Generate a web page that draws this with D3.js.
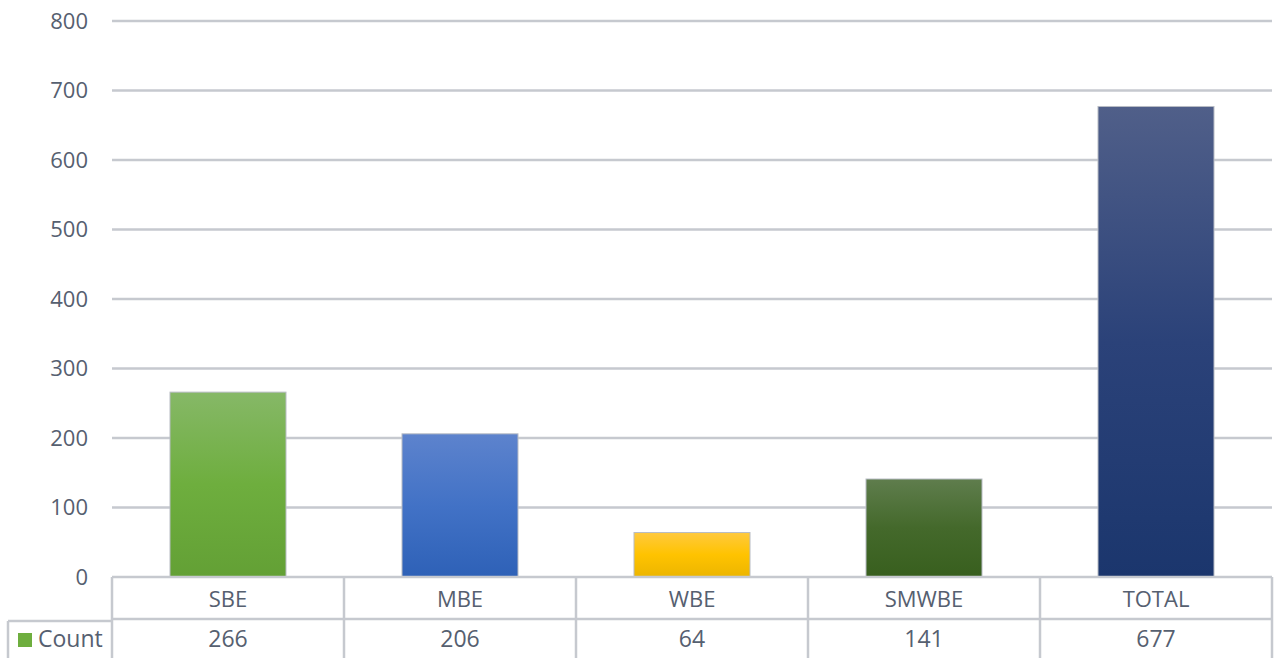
<!DOCTYPE html>
<html>
<head>
<meta charset="utf-8">
<script src="https://cdn.jsdelivr.net/npm/d3@7"></script>
<style>
  body { margin: 0; background: #fff; }
  svg { display: block; }
</style>
</head>
<body>
<div id="chart"></div>
<script>
const categories = ["SBE", "MBE", "WBE", "SMWBE", "TOTAL"]
const counts = [266, 206, 64, 141, 677]
const yTicks = [0, 100, 200, 300, 400, 500, 600, 700, 800]
const seriesName = "Count"
const barColors = [
  ["#86b867", "#6eae3e", "#63a035"],
  ["#5d83cd", "#4272c6", "#2e61b7"],
  ["#ffc93e", "#ffc300", "#ecb500"],
  ["#5f7d4d", "#44692b", "#385f1e"],
  ["#505f89", "#2b4279", "#1b366d"]
]

const width = 1276, height = 658
const plotLeft = 112, plotRight = 1272, plotTop = 21, plotBottom = 577
const rowH = 42
const textColor = "#566070"
const gridColor = "#c6c9cf"
const font = "'Open Sans', 'Liberation Sans', sans-serif"

const svg = d3.select("#chart").append("svg")
  .attr("width", width).attr("height", height)
  .attr("font-family", font)

const x = d3.scaleBand().domain(categories).range([plotLeft, plotRight]).paddingInner(0).paddingOuter(0)
const y = d3.scaleLinear().domain([0, 800]).range([plotBottom, plotTop])

const defs = svg.append("defs")
barColors.forEach((c, i) => {
  const g = defs.append("linearGradient").attr("id", "grad" + i)
    .attr("x1", 0).attr("y1", 0).attr("x2", 0).attr("y2", 1)
  g.append("stop").attr("offset", "0%").attr("stop-color", c[0])
  g.append("stop").attr("offset", "50%").attr("stop-color", c[1])
  g.append("stop").attr("offset", "100%").attr("stop-color", c[2])
})

// gridlines
svg.append("g").selectAll("line").data(yTicks.filter(d => d > 0)).join("line")
  .attr("x1", plotLeft).attr("x2", plotRight)
  .attr("y1", d => y(d)).attr("y2", d => y(d))
  .attr("stroke", gridColor).attr("stroke-width", 2.5)

// y axis labels
const yAxis = d3.axisLeft(y).tickValues(yTicks).tickSize(0).tickPadding(0)
svg.append("g").attr("transform", `translate(${plotLeft - 24},0)`)
  .call(yAxis)
  .call(g => g.select(".domain").remove())
  .call(g => g.selectAll("text")
    .attr("font-size", 22).attr("fill", textColor).attr("font-family", font)
    .attr("dy", "0.33em"))

// bars
const bw = x.bandwidth() / 2
svg.append("g").selectAll("rect").data(counts).join("rect")
  .attr("x", (d, i) => x(categories[i]) + (x.bandwidth() - bw) / 2)
  .attr("width", bw)
  .attr("y", d => y(d))
  .attr("height", d => y(0) - y(d))
  .attr("fill", (d, i) => `url(#grad${i})`)
  .attr("stroke", "#b8bcc4").attr("stroke-width", 1)

// data table
const t = svg.append("g").attr("fill", "none").attr("stroke", gridColor).attr("stroke-width", 2.5)
t.append("line").attr("x1", plotLeft).attr("x2", plotRight).attr("y1", plotBottom).attr("y2", plotBottom)
t.append("line").attr("x1", plotLeft).attr("x2", plotRight).attr("y1", plotBottom + rowH).attr("y2", plotBottom + rowH)
t.append("line").attr("x1", 8).attr("x2", plotLeft).attr("y1", plotBottom + rowH + 2).attr("y2", plotBottom + rowH + 2)
t.append("line").attr("x1", 8).attr("x2", 8).attr("y1", plotBottom + rowH + 2).attr("y2", height)
t.selectAll(".v").data(categories.map(c => x(c)).concat([plotRight])).join("line")
  .attr("x1", d => d).attr("x2", d => d).attr("y1", plotBottom).attr("y2", height)

svg.append("g").selectAll("text").data(categories).join("text")
  .attr("x", d => x(d) + x.bandwidth() / 2)
  .attr("y", plotBottom + rowH / 2 + 9)
  .attr("text-anchor", "middle").attr("font-size", 22).attr("fill", textColor)
  .text(d => d)

svg.append("g").selectAll("text").data(counts).join("text")
  .attr("x", (d, i) => x(categories[i]) + x.bandwidth() / 2)
  .attr("y", plotBottom + rowH + 28)
  .attr("text-anchor", "middle").attr("font-size", 23).attr("fill", textColor)
  .text(d => d)

// legend cell
svg.append("rect").attr("x", 18).attr("y", 633).attr("width", 14).attr("height", 14)
  .attr("fill", barColors[0][1])
svg.append("text").attr("x", 38).attr("y", plotBottom + rowH + 28)
  .attr("font-size", 23).attr("fill", textColor).text(seriesName)
</script>
</body>
</html>
